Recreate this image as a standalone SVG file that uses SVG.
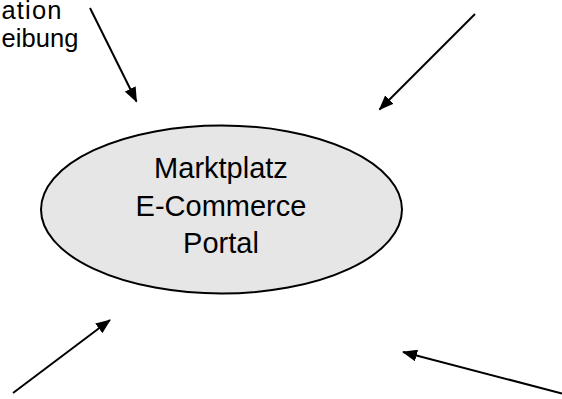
<svg xmlns="http://www.w3.org/2000/svg" width="562" height="399" viewBox="0 0 562 399">
<style>
.t{font-family:"Liberation Sans",Arial,sans-serif;fill:#000}
.c{stroke:#000;stroke-width:2;fill:none}
</style>
<defs>
<marker id="ah" markerUnits="userSpaceOnUse" markerWidth="16" markerHeight="12" refX="14" refY="6" orient="auto">
<path d="M0,0 L15,6 L0,12 z" fill="#000"/>
</marker>
</defs>
<rect width="562" height="399" fill="#fff"/>
<g id="label-topleft">
<text class="t" x="1.5" y="19" font-size="25.5" textLength="60" lengthAdjust="spacing">ation</text>
<text class="t" x="1.5" y="47" font-size="25.5" textLength="77" lengthAdjust="spacing">eibung</text>
</g>
<g id="portal">
<ellipse cx="221.5" cy="209.5" rx="180.5" ry="84" fill="#e6e6e6" stroke="#000" stroke-width="2"/>
<text class="t" x="221" y="178" font-size="29" text-anchor="middle">Marktplatz</text>
<text class="t" x="221" y="215.5" font-size="29" text-anchor="middle">E-Commerce</text>
<text class="t" x="221" y="253" font-size="29" text-anchor="middle">Portal</text>
</g>
<g id="connectors">
<line class="c" x1="90" y1="8" x2="136.5" y2="101.5" marker-end="url(#ah)"/>
<line class="c" x1="475" y1="14" x2="379.5" y2="109.5" marker-end="url(#ah)"/>
<line class="c" x1="13" y1="393" x2="110" y2="320" marker-end="url(#ah)"/>
<line class="c" x1="562" y1="393.5" x2="403" y2="352" marker-end="url(#ah)"/>
</g>
</svg>
